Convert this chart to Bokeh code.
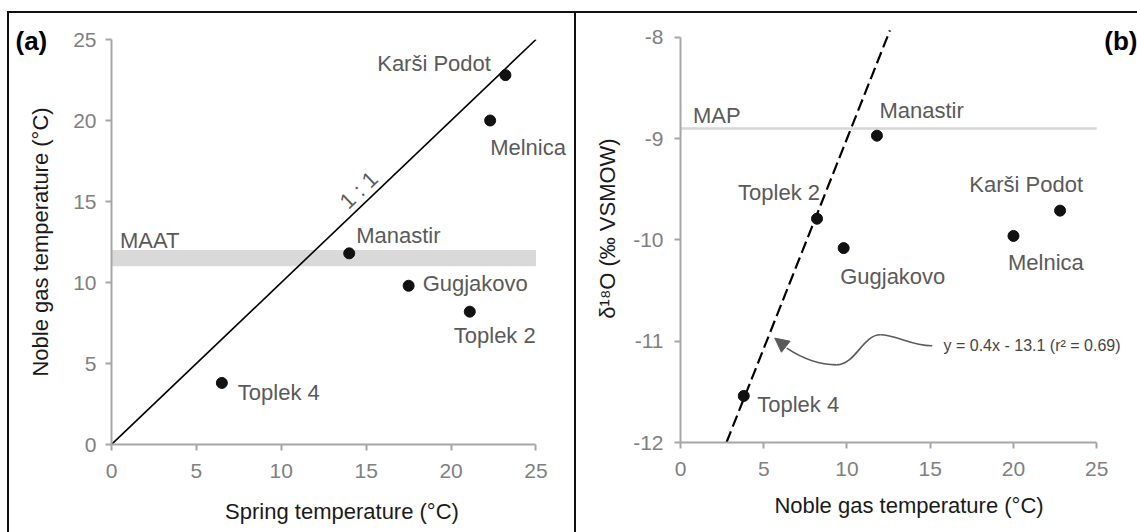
from bokeh.plotting import figure
from bokeh.layouts import row
from bokeh.models import (ColumnDataSource, FixedTicker, Label, Arrow, NormalHead, Range1d)
from bokeh.core.properties import value
from bokeh.embed import file_html
from bokeh.resources import INLINE
import math

# ---------------- data ----------------
sites = ["Karši Podot", "Melnica", "Manastir", "Gugjakovo", "Toplek 2", "Toplek 4"]
spring_t = [23.2, 22.3, 14.0, 17.5, 21.1, 6.5]       # spring temperature (°C)
noble_t = [22.8, 20.0, 11.8, 9.8, 8.2, 3.8]          # noble gas temperature (°C)
d18o = [-9.71, -9.96, -8.97, -10.08, -9.79, -11.54]  # δ18O (‰ VSMOW)
maat_band = [11.0, 12.0]                             # MAAT range (°C)
map_d18o = -8.9                                      # MAP δ18O
one_to_one = [0, 25]
reg_x = [2.76, 12.58]                                # regression y = 0.4x - 13.1
reg_y = [-12.0, -7.93]
ticks_a = [0, 5, 10, 15, 20, 25]
ticks_b_y = [-12, -11, -10, -9, -8]
equation = "y = 0.4x - 13.1 (r² = 0.69)"

# ---------------- styles ----------------
FONT = "Liberation Sans"
AX_COL = "#a6a6a6"
TICK_COL = "#808080"
LAB_COL = "#5a5a5a"
TXT_COL = "#1a1a1a"

# label placement (screen px) for each site, panel a and panel b
a_align = ["right", "left", "left", "left", "left", "left"]
a_dx = [-14.5, 0, 7, 14, -16, 16]
a_dy = [-12, 27, -18, -2, 24, 10]
b_align = ["right", "left", "left", "left", "right", "left"]
b_dx = [23, -5.5, 2.5, -3.5, 3, 13.5]
b_dy = [-26, 27, -25, 28, -26, 9]


def style(p, xlabel, ylabel, ystand, xstand, ylstand):
    p.grid.visible = False
    p.outline_line_color = None
    p.background_fill_color = "white"
    p.border_fill_color = None
    if "frame_align" in p.properties():
        p.frame_align = False
    for ax in (p.xaxis[0], p.yaxis[0]):
        ax.axis_line_color = AX_COL
        ax.axis_line_width = 2
        ax.major_tick_line_color = AX_COL
        ax.major_tick_line_width = 2
        ax.major_tick_in = 0
        ax.major_tick_out = 6
        ax.minor_tick_line_color = None
        ax.major_label_text_font = FONT
        ax.major_label_text_font_size = "21px"
        ax.major_label_text_color = TICK_COL
        ax.axis_label_text_font = FONT
        ax.axis_label_text_font_size = "22px"
        ax.axis_label_text_font_style = "normal"
        ax.axis_label_text_color = TXT_COL
    p.xaxis[0].axis_label = xlabel
    p.yaxis[0].axis_label = ylabel
    p.yaxis[0].major_label_standoff = ystand
    p.xaxis[0].major_label_standoff = 13
    p.xaxis[0].axis_label_standoff = xstand
    p.yaxis[0].axis_label_standoff = ylstand


LINE = "linear-gradient(#111,#111)"

# ---------------- panel (a) ----------------
p1 = figure(width=576, height=532, x_range=Range1d(0, 27.15), y_range=Range1d(0, 25),
            min_border_left=111, min_border_right=4, min_border_top=39, min_border_bottom=88,
            output_backend="svg", toolbar_location=None,
            styles={"background-color": "white",
                    "background-image": f"{LINE},{LINE},{LINE}",
                    "background-size": "2px 100%, 100% 2px, 2px 100%",
                    "background-position": "7px 11px, 7px 11px, 574px 11px",
                    "background-repeat": "no-repeat"})
style(p1, "Spring temperature (°C)", "Noble gas temperature (°C)", 9, 18, 17)
p1.xaxis[0].ticker = FixedTicker(ticks=ticks_a)
p1.yaxis[0].ticker = FixedTicker(ticks=ticks_a)
p1.xaxis[0].bounds = (0, 25)
p1.yaxis[0].bounds = (0, 25)

p1.quad(left=[0], right=[25], bottom=[maat_band[0]], top=[maat_band[1]],
        fill_color="#d9d9d9", line_color=None)
p1.line(one_to_one, one_to_one, line_color="black", line_width=1.6)

srcA = ColumnDataSource(dict(x=spring_t, y=noble_t, text=sites, align=a_align, dx=a_dx, dy=a_dy))
p1.scatter("x", "y", source=srcA, size=11, fill_color="#111111", line_color="#111111")
p1.text("x", "y", text="text", source=srcA, text_align="align", x_offset="dx", y_offset="dy",
        text_baseline="middle", text_font=value(FONT), text_font_size="22px", text_color=LAB_COL)

p1.text(x=[0.5], y=[12.6], text=["MAAT"], text_baseline="middle", text_align="left",
        text_font=value(FONT), text_font_size="22px", text_color=LAB_COL)
ang = math.atan2(16.2, 16.98)
p1.text(x=[14.56], y=[15.7], text=["1 : 1"], angle=ang, text_baseline="middle", text_align="center",
        text_font=value(FONT), text_font_size="22px", text_color=LAB_COL)

p1.add_layout(Label(x=15, y=40.5, x_units="canvas", y_units="canvas", text="(a)",
                    text_font=FONT, text_font_size="26px", text_font_style="bold",
                    text_color="black", text_baseline="middle", text_align="left"), "above")

# ---------------- panel (b) ----------------
p2 = figure(width=561, height=532, x_range=Range1d(0, 27.45), y_range=Range1d(-12, -7.773),
            min_border_left=104, min_border_right=0, min_border_top=14, min_border_bottom=90,
            output_backend="svg", toolbar_location=None,
            styles={"background-color": "white",
                    "background-image": LINE,
                    "background-size": "100% 2px",
                    "background-position": "0px 11px",
                    "background-repeat": "no-repeat"})
style(p2, "Noble gas temperature (°C)", "δ¹⁸O (‰ VSMOW)", 11, 14, 10)
p2.xaxis[0].ticker = FixedTicker(ticks=ticks_a)
p2.yaxis[0].ticker = FixedTicker(ticks=ticks_b_y)
p2.yaxis[0].major_label_overrides = {t: str(t) for t in ticks_b_y}
p2.xaxis[0].bounds = (0, 25)
p2.yaxis[0].bounds = (-12, -8)

p2.line([0, 25], [map_d18o, map_d18o], line_color="#d6d6d6", line_width=2.5)
p2.line(reg_x, reg_y, line_color="black", line_width=2.2, line_dash="12 5")

srcB = ColumnDataSource(dict(x=noble_t, y=d18o, text=sites, align=b_align, dx=b_dx, dy=b_dy))
p2.scatter("x", "y", source=srcB, size=11, fill_color="#111111", line_color="#111111")
p2.text("x", "y", text="text", source=srcB, text_align="align", x_offset="dx", y_offset="dy",
        text_baseline="middle", text_font=value(FONT), text_font_size="22px", text_color=LAB_COL)
p2.text(x=[0.75], y=[-8.77], text=["MAP"], text_baseline="middle", text_align="left",
        text_font=value(FONT), text_font_size="22px", text_color=LAB_COL)

# curved pointer from the equation to the regression line
bz_x0 = [15.12, 12.0, 9.375]
bz_y0 = [-11.045, -10.936, -11.233]
bz_x1 = [12.0, 9.375, 6.38]
bz_y1 = [-10.936, -11.233, -11.068]
bz_cx0 = [13.94, 10.94, 8.11]
bz_cy0 = [-11.05, -10.936, -11.233]
bz_cx1 = [12.92, 10.52, 7.09]
bz_cy1 = [-10.936, -11.233, -11.145]
p2.bezier(x0=bz_x0, y0=bz_y0, x1=bz_x1, y1=bz_y1, cx0=bz_cx0, cy0=bz_cy0,
          cx1=bz_cx1, cy1=bz_cy1, line_color="#5a5a5a", line_width=1.6)
p2.add_layout(Arrow(end=NormalHead(size=14, fill_color="#5a5a5a", line_color="#5a5a5a"),
                    x_start=6.6, y_start=-11.09, x_end=5.66, y_end=-10.969,
                    line_alpha=0))
p2.text(x=[15.8], y=[-11.045], text=[equation], text_baseline="middle", text_align="left",
        text_font=value(FONT), text_font_size="16px", text_color="#444444")

p2.add_layout(Label(x=27.45, y=-8.03, text="(b)", text_font=FONT, text_font_size="26px",
                    text_font_style="bold", text_color="black", text_baseline="middle",
                    text_align="right"))

layout = row(p1, p2)
open("out.html", "w").write(file_html(layout, INLINE))
